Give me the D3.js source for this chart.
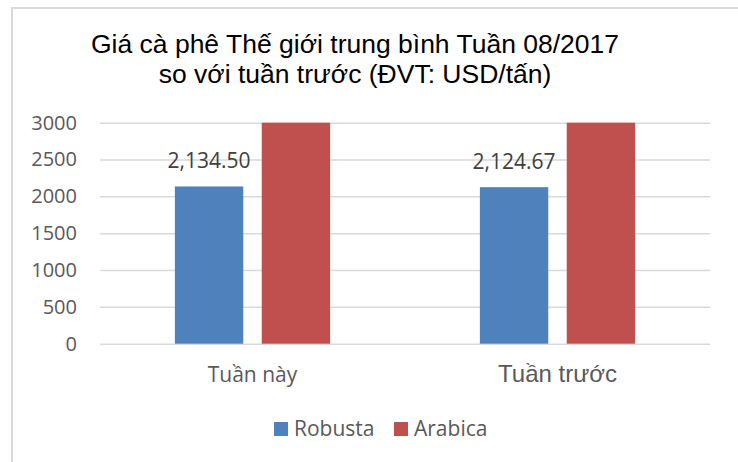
<!DOCTYPE html>
<html>
<head>
<meta charset="utf-8">
<script src="https://cdn.jsdelivr.net/npm/d3@7"></script>
<style>
  body { margin: 0; background: #fff; }
  svg { display: block; }
</style>
</head>
<body>
<div id="chart"></div>
<script>
// chart data
const categories = ["Tuần này", "Tuần trước"];
const seriesNames = ["Robusta", "Arabica"];
const robusta = [2134.50, 2124.67];
// Arabica bars run past the top of the axis; only the visible part (3000) can be read
const arabica = [3000, 3000];
const yTicks = [0, 500, 1000, 1500, 2000, 2500, 3000];
const titleLines = ["Giá cà phê Thế giới trung bình Tuần 08/2017", "so với tuần trước (ĐVT: USD/tấn)"];

const colors = {Robusta: "#4f81bd", Arabica: "#c0504d"};
const W = 738, H = 462;
const plot = {left: 100, right: 710, top: 122.7, bottom: 343.7};
const officeFont = "'Open Sans', 'Noto Sans', sans-serif";
const arialFont = "'Liberation Sans', Arial, sans-serif";

const svg = d3.select("#chart").append("svg")
    .attr("width", W)
    .attr("height", H);

// frame (only top and left edges visible in the picture)
svg.append("path")
    .attr("d", `M12,${H} L12,8 L${W},8`)
    .attr("fill", "none")
    .attr("stroke", "#d9d9d9")
    .attr("stroke-width", 2);

// title
svg.append("g").selectAll("text")
    .data(titleLines)
    .enter().append("text")
    .attr("x", 355)
    .attr("y", (d, i) => 53 + i * 30)
    .attr("text-anchor", "middle")
    .attr("font-family", arialFont)
    .attr("font-size", 26.5)
    .attr("fill", "#000")
    .text(d => d);

const y = d3.scaleLinear()
    .domain([0, 3000])
    .range([plot.bottom, plot.top]);

const x = d3.scaleBand()
    .domain(categories)
    .range([plot.left, plot.right]);

const xSub = d3.scaleBand()
    .domain(seriesNames)
    .range([0, x.bandwidth()])
    .paddingInner(0.2126)
    .paddingOuter(0.862);

// gridlines + y labels
const yAxis = svg.append("g")
    .attr("transform", `translate(${plot.left},0)`)
    .call(d3.axisLeft(y)
        .tickValues(yTicks)
        .tickFormat(d3.format("d"))
        .tickSize(-(plot.right - plot.left))
        .tickPadding(23));
yAxis.select(".domain").remove();
yAxis.selectAll(".tick line")
    .attr("stroke", "#d9d9d9")
    .attr("stroke-width", 1.5);
yAxis.selectAll(".tick text")
    .attr("font-family", officeFont)
    .attr("font-size", 20)
    .attr("fill", "#595959");

// bars
const rows = categories.map((c, i) => ({cat: c, Robusta: robusta[i], Arabica: arabica[i]}));
const groups = svg.append("g").selectAll("g")
    .data(rows)
    .enter().append("g")
    .attr("transform", d => `translate(${x(d.cat)},0)`);

groups.selectAll("rect")
    .data(d => seriesNames.map(s => ({series: s, value: d[s]})))
    .enter().append("rect")
    .attr("x", d => xSub(d.series))
    .attr("y", d => y(Math.min(d.value, 3000)))
    .attr("width", xSub.bandwidth())
    .attr("height", d => y(0) - y(Math.min(d.value, 3000)))
    .attr("fill", d => colors[d.series]);

// data labels (Robusta only, Arabica labels fall outside the plot)
groups.append("text")
    .attr("x", xSub("Robusta") + xSub.bandwidth() / 2)
    .attr("y", d => y(d.Robusta) - 18)
    .attr("text-anchor", "middle")
    .attr("font-family", officeFont)
    .attr("font-size", 21)
    .attr("fill", "#404040")
    .text(d => d3.format(",.2f")(d.Robusta));

// category labels (second one uses a different font in the original)
svg.append("g").selectAll("text")
    .data(categories)
    .enter().append("text")
    .attr("x", d => x(d) + x.bandwidth() / 2)
    .attr("y", (d, i) => i === 0 ? 382.3 : 381.7)
    .attr("text-anchor", "middle")
    .attr("font-family", (d, i) => i === 0 ? officeFont : arialFont)
    .attr("font-size", (d, i) => i === 0 ? 21 : 24)
    .attr("fill", "#595959")
    .text(d => d);

// legend
const legendX = [274, 394];
const legend = svg.append("g").selectAll("g")
    .data(seriesNames)
    .enter().append("g")
    .attr("transform", (d, i) => `translate(${legendX[i]},422)`);
legend.append("rect")
    .attr("width", 14)
    .attr("height", 14)
    .attr("fill", d => colors[d]);
legend.append("text")
    .attr("x", 20)
    .attr("y", 14)
    .attr("font-family", officeFont)
    .attr("font-size", 21)
    .attr("fill", "#595959")
    .text(d => d);
</script>
</body>
</html>
